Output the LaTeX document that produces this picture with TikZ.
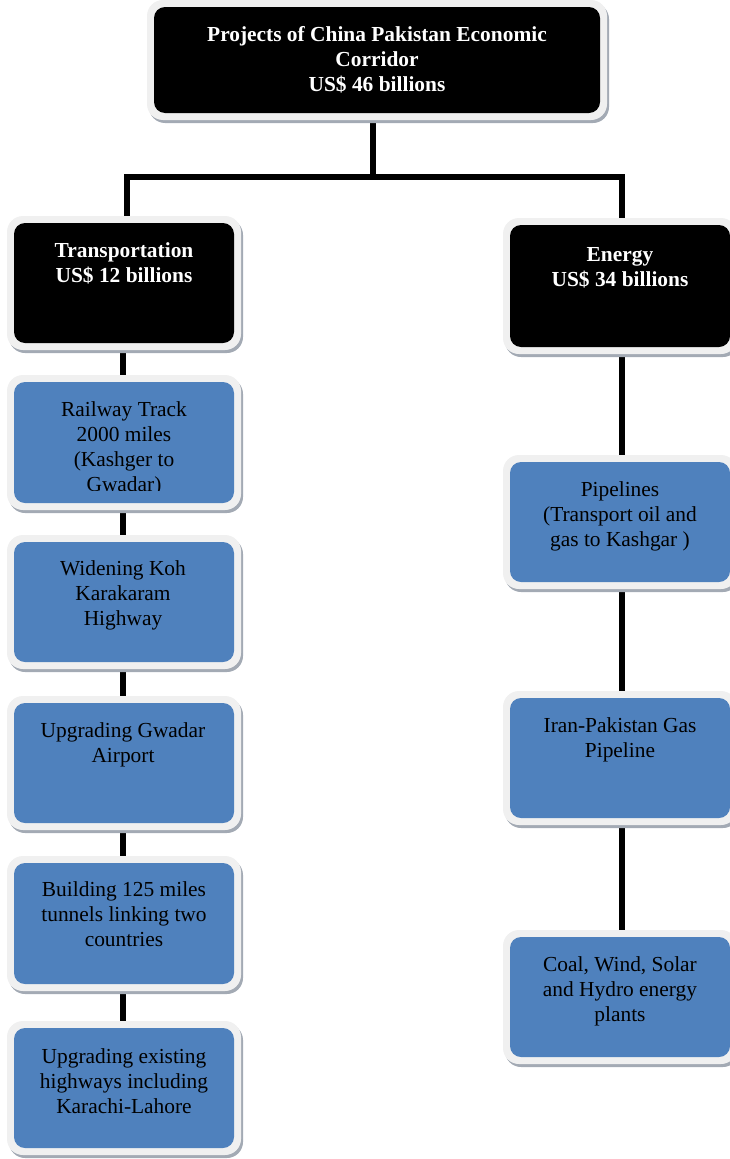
\documentclass[tikz,border=0pt]{standalone}
\usepackage{fontspec}
\setmainfont{Liberation Serif}
\usetikzlibrary{shadows,backgrounds}
\definecolor{cpblue}{HTML}{4F81BD}
\definecolor{framegray}{HTML}{F0F0F0}
\definecolor{shadowgray}{HTML}{A3AAB4}
\tikzset{
  framebox/.style={fill=framegray, rounded corners=16pt, inner sep=0pt, outer sep=0pt,
    drop shadow={shadow xshift=2pt, shadow yshift=-3pt, fill=shadowgray, opacity=1}},
  innerfill/.style={path picture={\fill[#1, rounded corners=11pt]
      ([shift={(7pt,-7pt)}]path picture bounding box.north west) rectangle
      ([shift={(-7pt,7pt)}]path picture bounding box.south east);}},
  whitetxt/.style={text=white, font=\fontsize{21.4}{25}\selectfont\bfseries, align=center, inner sep=0pt},
  blacktxt/.style={text=black, font=\fontsize{21.4}{25}\selectfont, align=center, inner sep=0pt},
  conn/.style={line width=5.5pt, draw=black, line join=miter}
}
% name, fill colour, centre x, inner top, inner bottom, inner width
\newcommand\pbox[6]{%
  \node[framebox, innerfill=#2, minimum width={(#6+14)*1pt}, minimum height={(#5-#4+14)*1pt}]
    (#1) at ({#3},{-(#4+#5)/2}) {};}
% name, style, centre x, top of text, text
\newcommand\ptext[5]{%
  \node[#2, anchor=north] (#1) at ({#3},{-(#4+2)}) {\strut #5};}
\begin{document}
\begin{tikzpicture}[x=1pt,y=1pt]
\useasboundingbox (0,0) rectangle (730,-1159);
\clip (0,0) rectangle (730,-1159);

% boxes
\pbox{top}{black}{377}{7}{113}{446}
\ptext{topt}{whitetxt}{377}{22}{Projects of China Pakistan Economic\\Corridor\\US\$ 46 billions}

\pbox{trans}{black}{124}{223}{343}{220}
\ptext{transt}{whitetxt}{124}{238}{Transportation\\US\$ 12 billions}

\pbox{energy}{black}{620}{225}{347}{220}
\ptext{energyt}{whitetxt}{620}{242}{Energy\\US\$ 34 billions}

\pbox{rail}{cpblue}{124}{382}{503}{220}
\begin{scope}
  \clip (14,-382) rectangle (234,-490);
  \ptext{railt}{blacktxt}{124}{397}{Railway Track\\2000 miles\\(Kashger to\\Gwadar)}
\end{scope}

\pbox{widen}{cpblue}{124}{542}{662}{220}
\ptext{wident}{blacktxt}{123}{556}{Widening Koh\\Karakaram\\Highway}

\pbox{air}{cpblue}{124}{703}{823}{220}
\ptext{airt}{blacktxt}{123}{718}{Upgrading Gwadar\\Airport}

\pbox{tunnel}{cpblue}{124}{863}{984}{220}
\ptext{tunnelt}{blacktxt}{124}{877}{Building 125 miles\\tunnels linking two\\countries}

\pbox{hw}{cpblue}{124}{1028}{1148}{220}
\ptext{hwt}{blacktxt}{124}{1044}{Upgrading existing\\highways including\\Karachi-Lahore}

\pbox{pipe}{cpblue}{620}{462}{582}{220}
\ptext{pipet}{blacktxt}{620}{477}{Pipelines\\(Transport oil and\\gas to Kashgar )}

\pbox{iran}{cpblue}{620}{698}{818}{220}
\ptext{irant}{blacktxt}{620}{713}{Iran-Pakistan Gas\\Pipeline}

\pbox{coal}{cpblue}{620}{937}{1057}{220}
\ptext{coalt}{blacktxt}{620}{952}{Coal, Wind, Solar\\and Hydro energy\\plants}

% connectors
\begin{scope}[on background layer]
  \coordinate (hub) at (373,-177);
  \draw[conn] ([xshift=-4pt]top.center) -- (hub);
  \draw[conn] ([xshift=3pt]trans.center) |- (hub) -| ([xshift=2pt]energy.center);
  \draw[conn] ([xshift=-1pt]trans.center) -- ([xshift=-1pt]rail.center);
  \draw[conn] ([xshift=-1pt]rail.center) -- ([xshift=-1pt]widen.center);
  \draw[conn] ([xshift=-1pt]widen.center) -- ([xshift=-1pt]air.center);
  \draw[conn] ([xshift=-1pt]air.center) -- ([xshift=-1pt]tunnel.center);
  \draw[conn] ([xshift=-1pt]tunnel.center) -- ([xshift=-1pt]hw.center);
  \draw[conn] ([xshift=2pt]energy.center) -- ([xshift=2pt]pipe.center);
  \draw[conn] ([xshift=2pt]pipe.center) -- ([xshift=2pt]iran.center);
  \draw[conn] ([xshift=2pt]iran.center) -- ([xshift=2pt]coal.center);
\end{scope}
\end{tikzpicture}
\end{document}
